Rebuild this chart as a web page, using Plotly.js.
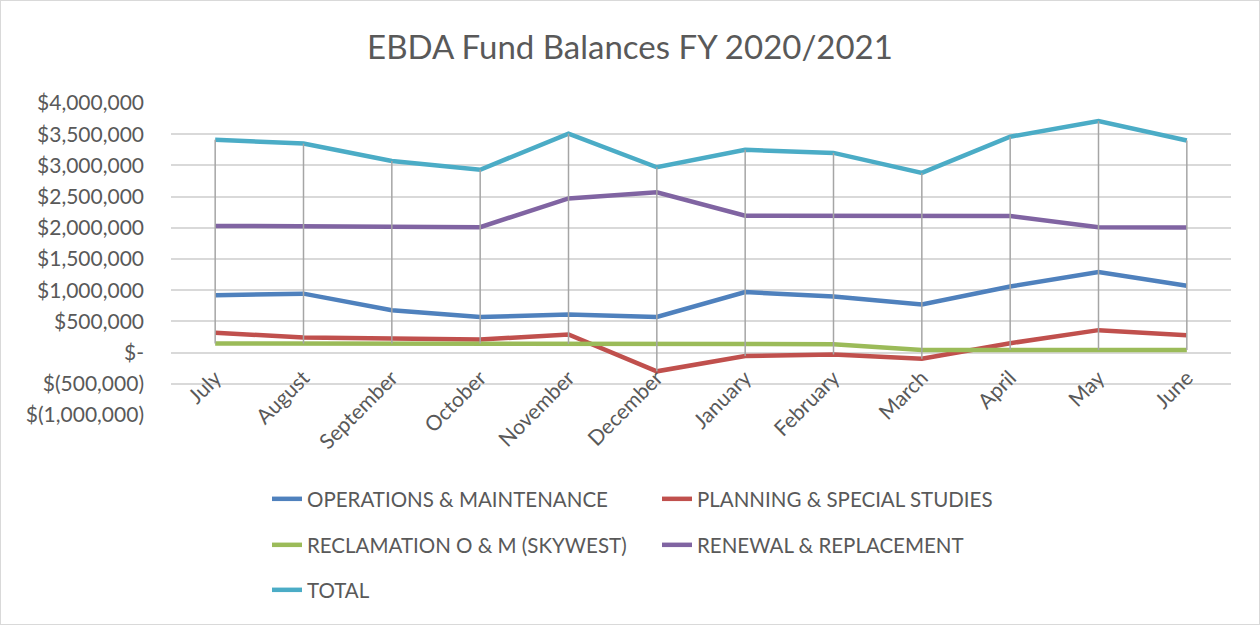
<!DOCTYPE html>
<html>
<head>
<meta charset="utf-8">
<script src="https://cdn.plot.ly/plotly-3.0.1.min.js"></script>
<style>
  html, body { margin: 0; padding: 0; background: #fff; }
  #wrap { position: relative; width: 1260px; height: 625px; }
  #chart { width: 1260px; height: 625px; }
  #frame { position: absolute; left: 0; top: 0; width: 1260px; height: 625px; box-sizing: border-box; border: 1px solid #D9D9D9; pointer-events: none; }
</style>
</head>
<body>
<div id="wrap"><div id="chart"></div><div id="frame"></div></div>
<script>
// ---- data ----
const months = ["July", "August", "September", "October", "November", "December",
                "January", "February", "March", "April", "May", "June"];
const operationsMaintenance = [920000, 945000, 680000, 570000, 610000, 570000,
                               970000, 900000, 770000, 1060000, 1290000, 1070000];
const planningSpecialStudies = [320000, 240000, 225000, 210000, 290000, -300000,
                                -55000, -30000, -100000, 150000, 360000, 280000];
const reclamationSkywest = [145000, 145000, 145000, 145000, 140000, 140000,
                            140000, 135000, 40000, 40000, 40000, 40000];
const renewalReplacement = [2030000, 2020000, 2015000, 2010000, 2470000, 2570000,
                            2195000, 2195000, 2190000, 2190000, 2010000, 2005000];
const totalBalance = [3410000, 3350000, 3070000, 2930000, 3510000, 2970000,
                      3250000, 3200000, 2880000, 3460000, 3710000, 3400000];
const seriesNames = ["OPERATIONS & MAINTENANCE", "PLANNING & SPECIAL STUDIES",
                     "RECLAMATION O & M (SKYWEST)", "RENEWAL & REPLACEMENT", "TOTAL"];
const yTickValues = [-1000000, -500000, 0, 500000, 1000000, 1500000, 2000000,
                     2500000, 3000000, 3500000, 4000000];
const yTickLabels = ["$(1,000,000)", "$(500,000)", "$-", "$500,000", "$1,000,000",
                     "$1,500,000", "$2,000,000", "$2,500,000", "$3,000,000",
                     "$3,500,000", "$4,000,000"];

// ---- styling ----
const FONT = "Lato, 'Open Sans', sans-serif";
const TXT = "#595959";
const colors = ["#4F81BD", "#C0504D", "#9BBB59", "#8064A2", "#4BACC6"];
const legendIds = ["legend", "legend", "legend2", "legend2", "legend3"];
const allSeries = [operationsMaintenance, planningSpecialStudies, reclamationSkywest,
                   renewalReplacement, totalBalance];

const traces = allSeries.map((vals, i) => ({
  type: "scatter", mode: "lines",
  x: months, y: vals, name: seriesNames[i],
  line: { color: colors[i], width: 4.5 },
  legend: legendIds[i],
  hoverinfo: "x+y+name"
}));

// high-low lines (Excel style): from max to min of all series at each category
const hlX = [], hlY = [];
months.forEach((m, k) => {
  const v = allSeries.map(s => s[k]);
  hlX.push(m, m, null);
  hlY.push(Math.max(...v), Math.min(...v), null);
});
traces.push({
  type: "scatter", mode: "lines", x: hlX, y: hlY,
  line: { color: "#A5A5A5", width: 1.5 },
  showlegend: false, hoverinfo: "skip", connectgaps: false
});

const legendBase = {
  orientation: "h", xref: "container", yref: "container",
  x: 267 / 1260, xanchor: "left", yanchor: "middle",
  entrywidth: 345, entrywidthmode: "pixels",
  font: { family: FONT, size: 20.5, color: TXT },
  bgcolor: "rgba(0,0,0,0)", traceorder: "normal"
};

const layout = {
  width: 1260, height: 625,
  paper_bgcolor: "#FFFFFF", plot_bgcolor: "#FFFFFF",
  margin: { l: 171, r: 29, t: 103, b: 210 },
  font: { family: FONT, color: TXT },
  title: {
    text: "EBDA Fund Balances FY 2020/2021",
    font: { family: FONT, size: 33, color: TXT },
    x: 0.5, xref: "container", xanchor: "center",
    y: 1 - 47 / 625, yref: "container", yanchor: "middle"
  },
  xaxis: {
    type: "category", categoryorder: "array", categoryarray: months,
    range: [-0.5, 11.5], showgrid: false, zeroline: false, showline: false,
    ticks: "", tickangle: -45, anchor: "free", position: 0.2,
    tickfont: { family: FONT, size: 21, color: TXT },
    ticklabelstandoff: 8
  },
  yaxis: {
    range: [-1000000, 4000000], tickvals: yTickValues, ticktext: yTickLabels,
    showgrid: true, gridcolor: "#D9D9D9", gridwidth: 1.5,
    zeroline: false, showline: false, ticks: "",
    tickfont: { family: FONT, size: 21, color: TXT },
    ticklabelstandoff: 26
  },
  legend: Object.assign({}, legendBase, { y: 1 - 499 / 625 }),
  legend2: Object.assign({}, legendBase, { y: 1 - 545 / 625 }),
  legend3: Object.assign({}, legendBase, { y: 1 - 590 / 625 }),
  showlegend: true
};

Plotly.newPlot("chart", traces, layout, { displayModeBar: false, responsive: false });
</script>
</body>
</html>
